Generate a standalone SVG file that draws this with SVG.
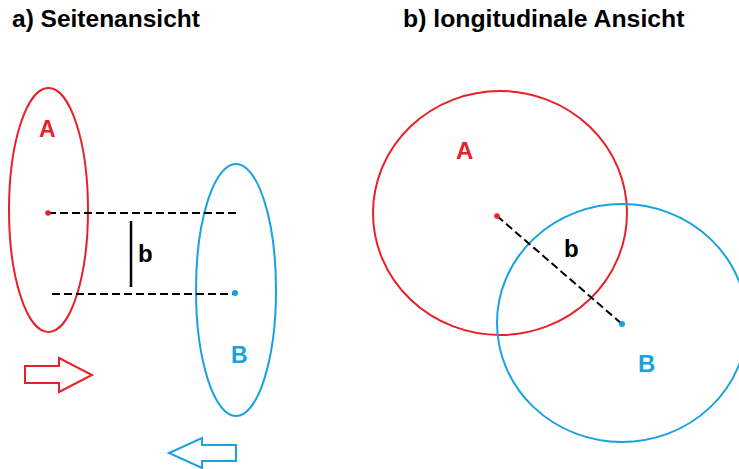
<svg xmlns="http://www.w3.org/2000/svg" width="739" height="469" viewBox="0 0 739 469">
<style>
.t{font-family:"Liberation Sans",Arial,sans-serif;font-weight:bold;}
.red{fill:none;stroke:#e8202a;stroke-width:2}
.blue{fill:none;stroke:#17a2e0;stroke-width:2}
.dash{stroke:#000;stroke-width:2;stroke-dasharray:8 4;fill:none}
</style>
<rect width="739" height="469" fill="#fff"/>
<text class="t" x="12" y="27" font-size="24.5">a) Seitenansicht</text>
<text class="t" x="403" y="27" font-size="24.8">b) longitudinale Ansicht</text>
<g id="ellipseA">
<ellipse class="red" cx="48.5" cy="210" rx="39.5" ry="122"/>
<text class="t" x="39" y="137" font-size="23" fill="#e8202a">A</text>
</g>
<g id="ellipseB">
<ellipse class="blue" cx="236" cy="290" rx="40" ry="126"/>
<text class="t" x="231" y="363" font-size="23" fill="#17a2e0">B</text>
</g>
<g id="arrowRight"><polygon class="red" points="25,366 59,366 59,358 92,375 59,392 59,383 25,383"/></g>
<g id="arrowLeft"><polygon class="blue" points="169,453 202,438 202,445 236,445 236,461 202,461 202,468"/></g>
<g id="circleA">
<ellipse class="red" cx="500" cy="213" rx="127" ry="122"/>
<text class="t" x="456" y="159" font-size="24" fill="#e8202a">A</text>
</g>
<g id="circleB">
<ellipse class="blue" cx="622" cy="323" rx="125" ry="119"/>
<text class="t" x="638" y="372" font-size="24" fill="#17a2e0">B</text>
</g>
<g id="connectors">
<line class="dash" x1="48" y1="213" x2="237" y2="213"/>
<line class="dash" x1="52" y1="294" x2="235" y2="294"/>
<line x1="131" y1="221" x2="131" y2="287" stroke="#000" stroke-width="2.5"/>
<line class="dash" x1="497" y1="216" x2="622" y2="324"/>
</g>
<circle cx="48" cy="213" r="2.8" fill="#e8202a"/>
<circle cx="235" cy="293" r="3" fill="#17a2e0"/>
<circle cx="497" cy="216" r="2.8" fill="#e8202a"/>
<circle cx="622" cy="324" r="3" fill="#17a2e0"/>
<text class="t" x="138" y="262" font-size="24">b</text>
<text class="t" x="564" y="257" font-size="24">b</text>
</svg>
